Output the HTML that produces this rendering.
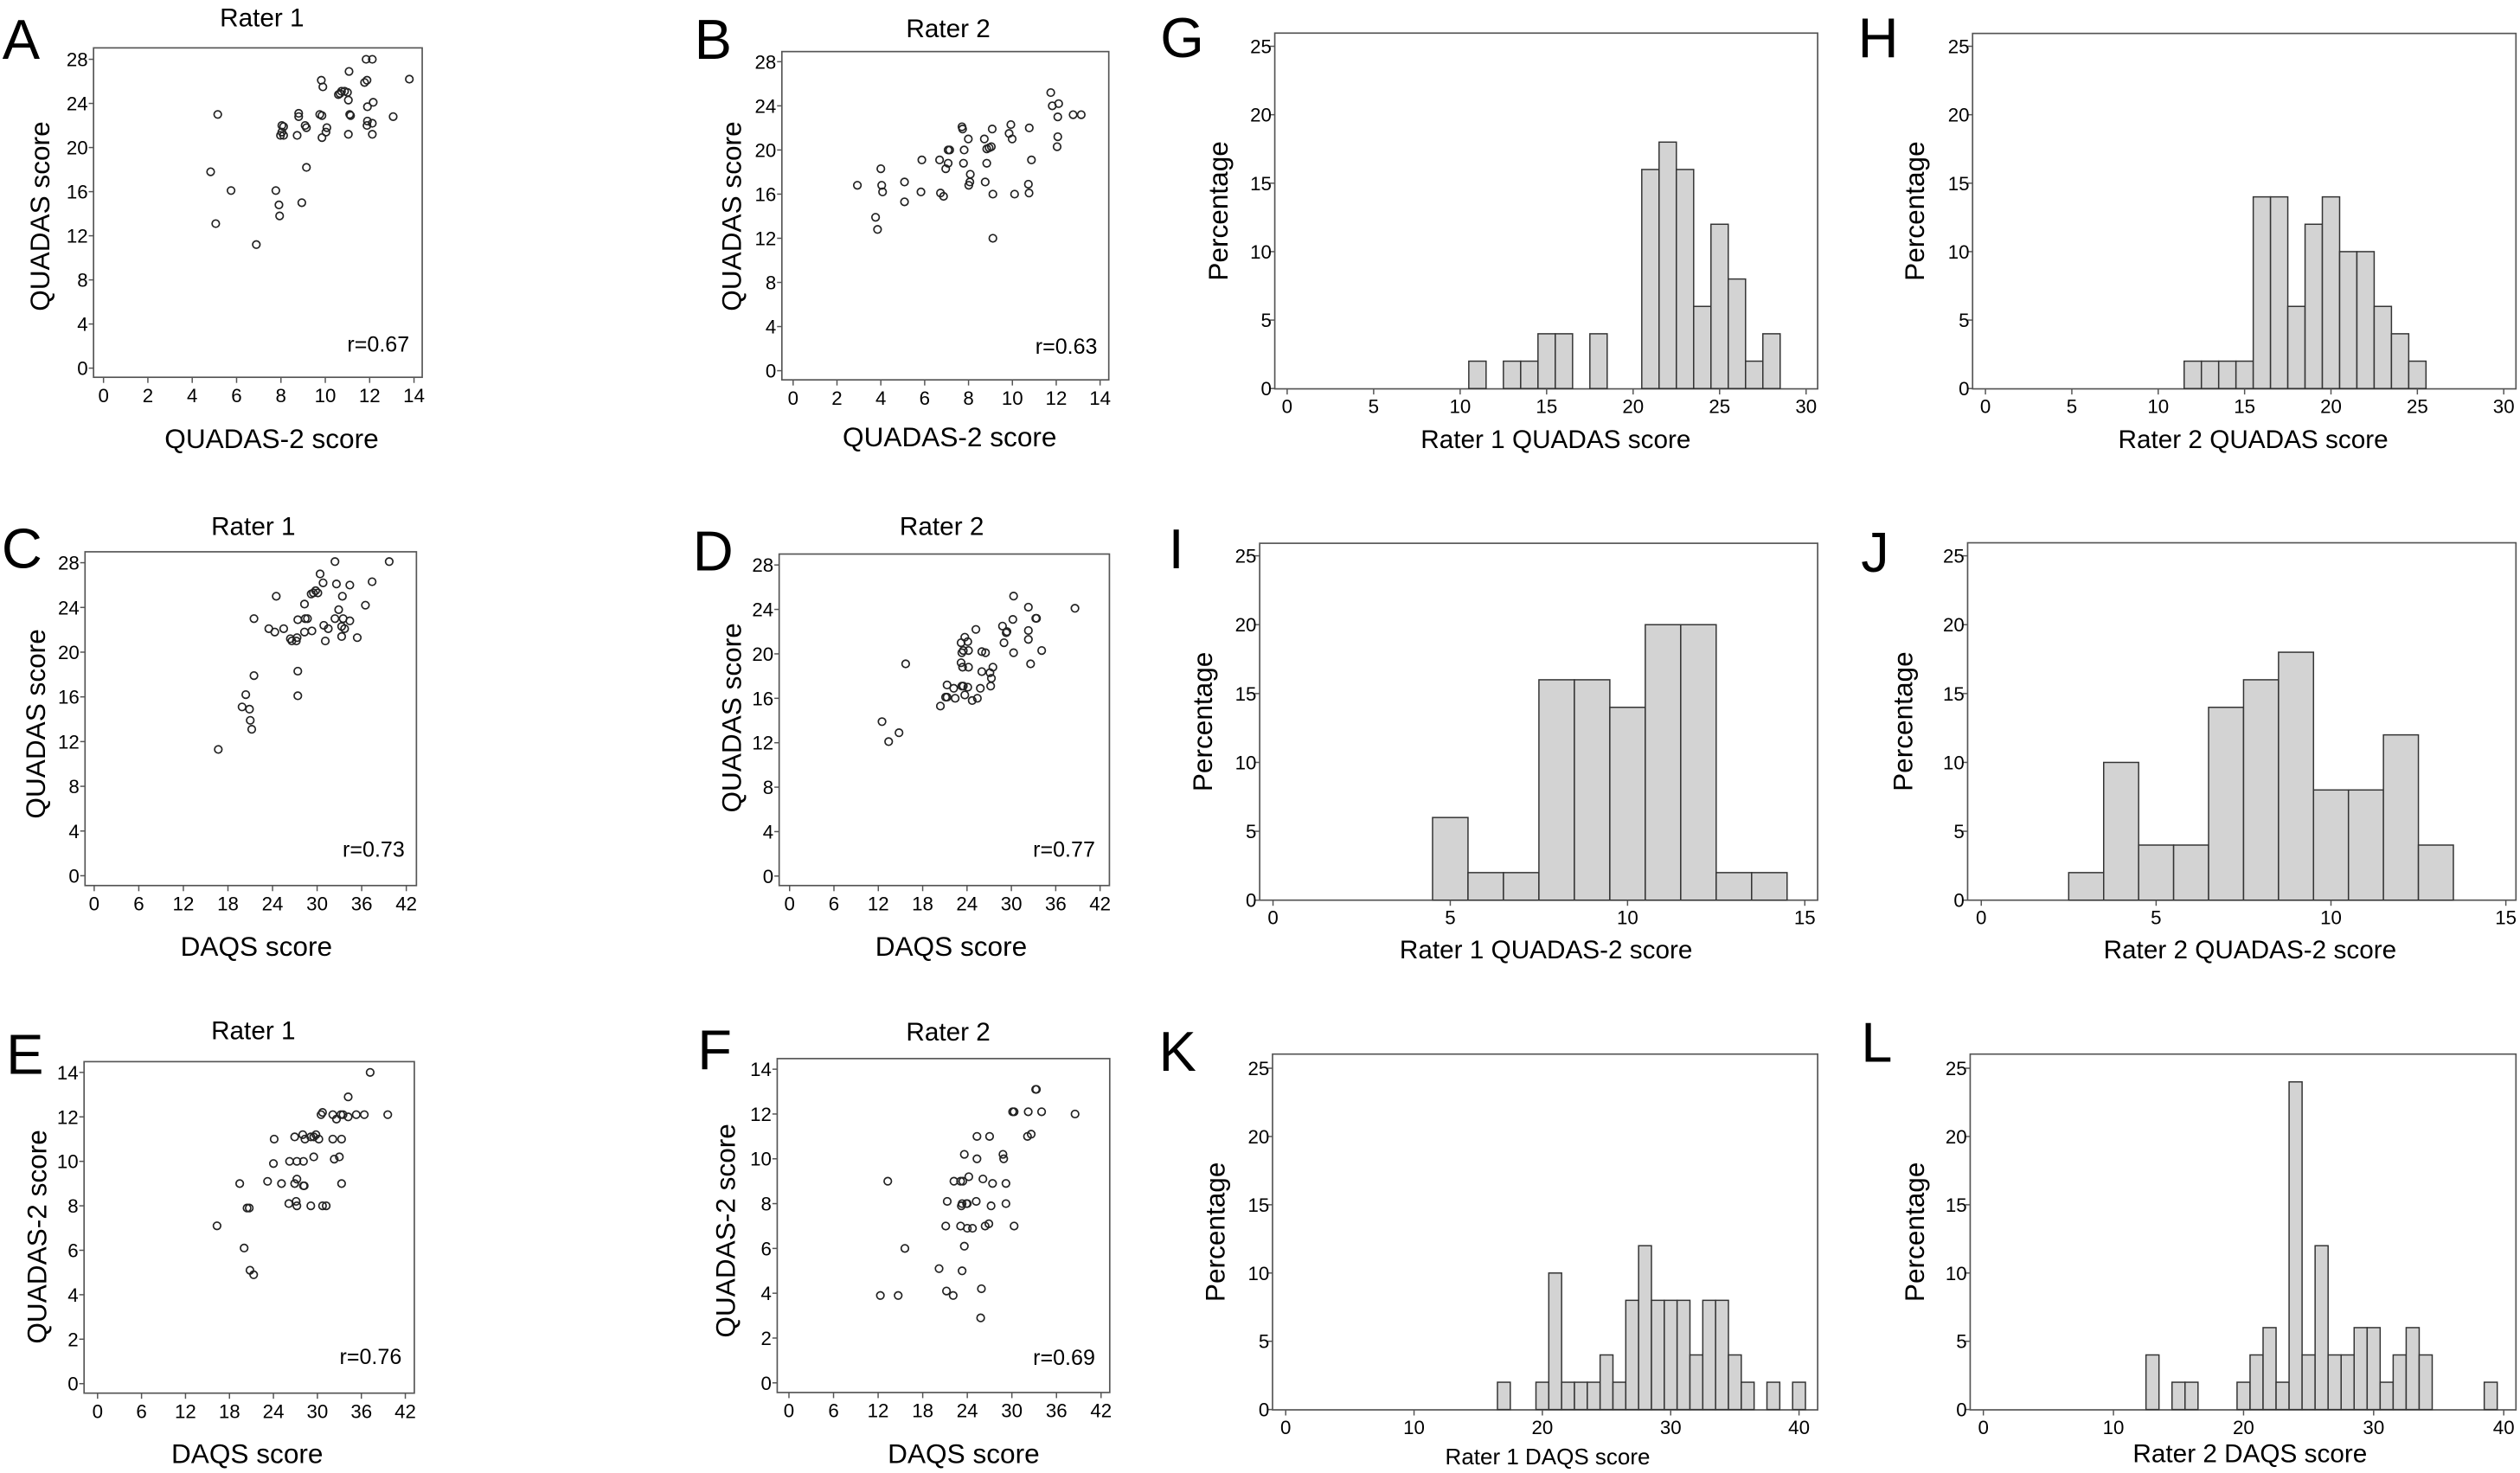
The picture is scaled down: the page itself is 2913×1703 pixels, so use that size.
<!DOCTYPE html>
<html><head><meta charset="utf-8"><title>QUADAS / QUADAS-2 / DAQS comparison</title>
<style>
html,body{margin:0;padding:0;background:#fff;}
svg{display:block;font-family:"Liberation Sans",Arial,sans-serif;}
</style></head>
<body>
<svg id="fig" width="2913" height="1703" viewBox="0 0 1568 916.7" xmlns="http://www.w3.org/2000/svg">
<rect x="0" y="0" width="1568" height="916.7" fill="#fff"/>
</svg>
<script>
// ---------- Scatter data ----------
const aX = [11.84,12.12,11.07,9.82,9.89,11.77,11.88,13.79,10.66,10.73,10.87,11.0,10.59,11.04,12.16,11.9,5.15,8.8,8.8,9.75,9.85,11.1,11.14,13.06,8.04,8.12,9.09,9.15,10.07,11.9,11.88,12.12,7.98,8.12,8.04,8.73,10.03,9.85,11.04,12.12,9.15,4.83,5.75,7.77,7.91,7.94,8.94,5.06,6.89];
const aY = [28,28,26.9,26.1,25.5,25.9,26.1,26.2,24.9,25.1,25.1,25.0,24.8,24.3,24.1,23.7,23,23.1,22.8,23,22.9,23,22.9,22.8,22.0,21.9,22,21.8,21.8,22.4,22.0,22.2,21.1,21.1,21.4,21.1,21.4,20.9,21.2,21.2,18.2,17.8,16.1,16.1,14.8,13.8,15.0,13.1,11.2];
const bX = [11.75,11.82,12.11,12.07,12.77,13.14,9.93,10.77,7.7,7.73,9.08,9.85,9.99,7.99,8.72,12.07,12.04,7.07,7.14,7.8,8.83,8.94,9.04,5.87,6.68,7.07,7.77,6.96,8.83,10.87,4.0,8.08,8.06,8.01,8.76,10.73,10.76,2.93,4.04,4.08,5.08,5.83,6.72,6.86,5.08,9.11,10.1,3.76,3.85,9.11];
const bY = [25.2,24,24.2,23.0,23.2,23.2,22.3,22,22.1,21.9,21.9,21.5,21.0,21,21,21.2,20.3,20.0,20,20,20.1,20.2,20.3,19.1,19.1,18.8,18.8,18.3,18.8,19.1,18.3,17.8,17.1,16.8,17.1,16.9,16.1,16.8,16.8,16.2,17.1,16.2,16.1,15.8,15.3,16,16,13.9,12.8,12.0];
const cX = [32.4,39.7,30.4,30.8,32.6,34.4,37.4,29.2,29.5,29.8,30.1,33.4,24.5,28.3,36.5,32.9,21.5,27.4,28.4,28.7,32.4,33.5,34.4,30.9,23.5,25.5,24.3,28.3,29.3,31.5,33.3,33.7,26.4,26.6,27.3,27.2,31.1,33.3,35.4,27.4,21.5,20.4,27.4,19.9,20.9,21,21.2,16.7];
const cY = [28.1,28.1,27,26.2,26.1,26,26.3,25.2,25.3,25.5,25.3,25,25,24.3,24.2,23.8,23,22.9,23,23,23,23,22.8,22.4,22.1,22.1,21.8,21.8,21.9,22.1,22.3,22.1,21.2,21,21.3,21,21,21.4,21.3,18.3,17.9,16.2,16.1,15.1,14.9,13.9,13.1,11.3];
const dX = [30.3,32.3,38.6,30.2,33.3,33.4,25.2,28.8,29.4,29.3,32.3,32.3,23.7,24.1,23.2,29,23.3,23.5,24.2,26,26.5,30.3,34.1,15.7,23.2,23.4,24.2,32.6,26,27.1,27.5,27.3,27.2,21.3,23.3,23.5,24.1,22.2,25.8,21.1,21.3,22.4,23.7,24.7,25.4,20.4,12.5,14.8,13.4];
const dY = [25.2,24.2,24.1,23.1,23.2,23.2,22.2,22.5,22,21.9,22.1,21.3,21.5,21.1,21,21,20.1,20.3,20.3,20.2,20.1,20.1,20.3,19.1,19.2,18.8,18.8,19.1,18.4,18.3,18.8,17.8,17.1,17.2,17.1,17.1,17,16.9,16.9,16.1,16.1,16,16.3,15.8,16,15.3,13.9,12.9,12.1];
const eX = [37.2,34.2,30.7,30.5,32.1,33.2,33.5,34.2,35.3,36.4,32.6,39.6,24.1,26.9,28,28.3,29.1,29.5,29.8,30.2,32.1,33.3,29.5,32.3,33,24,26.2,27.2,28.1,19.4,23.2,25.1,26.9,27.2,28.1,28.2,33.3,26.1,27.1,27.2,29.1,30.7,31.2,20.4,20.7,16.3,20,20.8,21.3];
const eY = [14,12.9,12.2,12.1,12.1,12.1,12.1,12,12.1,12.1,11.9,12.1,11,11.1,11.2,11,11.1,11.1,11.2,11,11,11,10.2,10.1,10.2,9.9,10,10,10,9,9.1,9,9,9.2,8.9,8.9,9,8.1,8.2,8,8,8,8,7.9,7.9,7.1,6.1,5.1,4.9];
const fX = [33.2,33.3,30.1,30.3,32.2,34,38.5,32.1,32.6,25.3,27,23.6,25.3,28.8,28.9,13.3,22.2,23.1,23.4,24.2,26.1,27.4,29.2,21.3,23.2,23.3,23.9,24,25.2,27.2,29.2,21.1,23.1,24,24.7,26.4,26.9,30.3,15.6,23.6,20.2,23.3,21.2,22.1,25.9,12.3,14.7,25.8];
const fY = [13.1,13.1,12.1,12.1,12.1,12.1,12,11,11.1,11,11,10.2,10,10.2,10,9,9,9,9,9.2,9.1,8.9,8.9,8.1,7.9,8,8,8,8.1,7.9,8,7,7,6.9,6.9,7,7.1,7,6,6.1,5.1,5,4.1,3.9,4.2,3.9,3.9,2.9];
const rLabels = ["r=0.67","r=0.63","r=0.73","r=0.77","r=0.76","r=0.69"];
const ticksQ2 = [0,2,4,6,8,10,12,14];
const ticksQ = [0,4,8,12,16,20,24,28];
const ticksD = [0,6,12,18,24,30,36,42];

// ---------- Histogram data ----------
const gBins = [11,13,14,15,16,18,21,22,23,24,25,26,27,28];
const gPct  = [2,2,2,4,4,4,16,18,16,6,12,8,2,4];
const hBins = [12,13,14,15,16,17,18,19,20,21,22,23,24,25];
const hPct  = [2,2,2,2,14,14,6,12,14,10,10,6,4,2];
const iBins = [5,6,7,8,9,10,11,12,13,14];
const iPct  = [6,2,2,16,16,14,20,20,2,2];
const jBins = [3,4,5,6,7,8,9,10,11,12,13];
const jPct  = [2,10,4,4,14,16,18,8,8,12,4];
const kBins = [17,20,21,22,23,24,25,26,27,28,29,30,31,32,33,34,35,36,38,40];
const kPct  = [2,2,10,2,2,2,4,2,8,12,8,8,8,4,8,8,4,2,2,2];
const lBins = [13,15,16,20,21,22,23,24,25,26,27,28,29,30,31,32,33,34,39];
const lPct  = [4,2,2,2,4,6,2,24,4,12,4,4,6,6,2,4,6,4,2];
const pctTicks = [0,5,10,15,20,25];
const tick30 = [0,5,10,15,20,25,30];
const tick15 = [0,5,10,15];
const tick40 = [0,10,20,30,40];

const NS = "http://www.w3.org/2000/svg";
const svg = document.getElementById('fig');
function mk(tag, attrs, parent) {
  const e = document.createElementNS(NS, tag);
  for (const k in attrs) e.setAttribute(k, attrs[k]);
  (parent || svg).appendChild(e);
  return e;
}
function txt(str, attrs, parent) {
  const t = mk('text', attrs, parent);
  t.textContent = str;
  return t;
}
function scale(d0, d1, p0, p1) { return v => p0 + (v - d0) * (p1 - p0) / (d1 - d0); }

const scatters = [
  {id:'a', letter:'A', lx:1.5, ly:36.5, box:[58.2,29.8,262.7,234.8], xr:[0,14,64.4,257.6], yr:[0,28,229.1,36.9], xs:aX, ys:aY, xt:ticksQ2, yt:ticksQ, title:'Rater 1', tx:163, ty:16.3, ylab:'QUADAS score', ylx:30.7, yly:134.6, xlab:'QUADAS-2 score', xlx:169, xly:278.7, r:rLabels[0], rx:254.7, ry:218.7},
  {id:'b', letter:'B', lx:432, ly:36.5, box:[486.5,32.1,689.9,236.4], xr:[0,14,493.5,684.5], yr:[0,28,230.7,38.4], xs:bX, ys:bY, xt:ticksQ2, yt:ticksQ, title:'Rater 2', tx:590, ty:23.1, ylab:'QUADAS score', ylx:461.1, yly:134.6, xlab:'QUADAS-2 score', xlx:590.9, xly:277.7, r:rLabels[1], rx:682.8, ry:220.1},
  {id:'c', letter:'C', lx:1, ly:353.5, box:[52.9,343.4,259.1,551.1], xr:[0,42,58.6,252.8], yr:[0,28,545.0,350.2], xs:cX, ys:cY, xt:ticksD, yt:ticksQ, title:'Rater 1', tx:157.6, ty:333, ylab:'QUADAS score', ylx:27.9, yly:450.5, xlab:'DAQS score', xlx:159.5, xly:594.7, r:rLabels[2], rx:251.8, ry:533.2},
  {id:'d', letter:'D', lx:431, ly:355, box:[484.8,344.8,690.3,551.1], xr:[0,42,491.3,684.5], yr:[0,28,545.2,351.6], xs:dX, ys:dY, xt:ticksD, yt:ticksQ, title:'Rater 2', tx:586, ty:333, ylab:'QUADAS score', ylx:461.1, yly:446.7, xlab:'DAQS score', xlx:591.8, xly:594.7, r:rLabels[3], rx:681.4, ry:533.2},
  {id:'e', letter:'E', lx:3.8, ly:668.2, box:[52.3,660.7,257.8,867.0], xr:[0,42,60.7,252.2], yr:[0,14,861.1,667.4], xs:eX, ys:eY, xt:ticksD, yt:ticksQ2, title:'Rater 1', tx:157.6, ty:646.7, ylab:'QUADAS-2 score', ylx:28.8, yly:769.7, xlab:'DAQS score', xlx:153.8, xly:910.4, r:rLabels[4], rx:249.9, ry:848.9},
  {id:'f', letter:'F', lx:434, ly:665.3, box:[483.6,658.8,690.5,866.6], xr:[0,42,490.9,685.1], yr:[0,14,860.6,665.4], xs:fX, ys:fY, xt:ticksD, yt:ticksQ2, title:'Rater 2', tx:590, ty:647.6, ylab:'QUADAS-2 score', ylx:457.3, yly:765.9, xlab:'DAQS score', xlx:599.6, xly:910.4, r:rLabels[5], rx:681.4, ry:849.4}
];

scatters.forEach(p => {
  const g = mk('g', {});
  
  
  const X = scale(p.xr[0], p.xr[1], p.xr[2], p.xr[3]);
  const Y = scale(p.yr[0], p.yr[1], p.yr[2], p.yr[3]);
  const [bx0, by0, bx1, by1] = p.box;
  const L = txt(p.letter, {x:p.lx, y:p.ly, 'font-size':35, fill:'#000'}, g);
  
  
  const T = txt(p.title, {x:p.tx, y:p.ty, 'font-size':16, 'text-anchor':'middle'}, g);
  
  
  const box = mk('rect', {x:bx0, y:by0, width:bx1-bx0, height:by1-by0, fill:'none', stroke:'#555', 'stroke-width':0.9}, g);
  
  
  p.yt.forEach(v => {
    const ln = mk('line', {x1:bx0-3, x2:bx0, y1:Y(v), y2:Y(v), stroke:'#555', 'stroke-width':0.8}, g);
    
    
    const t = txt(String(v), {x:bx0-3.5, y:Y(v)+4.3, 'font-size':12, 'text-anchor':'end'}, g);
    
    
  });
  p.xt.forEach(v => {
    const ln = mk('line', {x1:X(v), x2:X(v), y1:by1, y2:by1+3.5, stroke:'#555', 'stroke-width':0.8}, g);
    
    
    const t = txt(String(v), {x:X(v), y:by1+15.5, 'font-size':12, 'text-anchor':'middle'}, g);
    
    
  });
  const yl = txt(p.ylab, {x:0, y:0, 'font-size':17, 'text-anchor':'middle', transform:'translate(' + p.ylx + ',' + p.yly + ') rotate(-90)'}, g);
  
  
  const xl = txt(p.xlab, {x:p.xlx, y:p.xly, 'font-size':17, 'text-anchor':'middle'}, g);
  
  
  const r = txt(p.r, {x:p.rx, y:p.ry, 'font-size':13.5, 'text-anchor':'end'}, g);
  
  
  p.xs.forEach((xv, i) => {
    const c = mk('circle', {cx:X(xv), cy:Y(p.ys[i]), r:2.3, fill:'none', stroke:'#222', 'stroke-width':0.9}, g);
    
    
  });
});

const hists = [
  {id:'g', letter:'G', lx:722, ly:35.6, box:[793.2,20.6,1131,242], xr:[0,30,800.9,1123.8], yr:[0,25,241.8,28.8], bins:gBins, pct:gPct, xt:tick30, xlab:'Rater 1 QUADAS score', xfs:16, xlx:968, xly:278.7, ylx:763.8},
  {id:'h', letter:'H', lx:1156, ly:35.6, box:[1227.4,20.8,1565.5,242], xr:[0,30,1235.4,1557.9], yr:[0,25,241.8,28.8], bins:hBins, pct:hPct, xt:tick30, xlab:'Rater 2 QUADAS score', xfs:16, xlx:1402, xly:278.7, ylx:1197},
  {id:'i', letter:'I', lx:727, ly:353.6, box:[783.8,338.1,1131,560.2], xr:[0,15,792.1,1123], yr:[0,25,560.2,345.9], bins:iBins, pct:iPct, xt:tick15, xlab:'Rater 1 QUADAS-2 score', xfs:16, xlx:962, xly:596.5, ylx:754},
  {id:'j', letter:'J', lx:1158, ly:355.7, box:[1224.3,337.8,1565.5,560.2], xr:[0,15,1232.8,1559.2], yr:[0,25,560.2,345.9], bins:jBins, pct:jPct, xt:tick15, xlab:'Rater 2 QUADAS-2 score', xfs:16, xlx:1400, xly:596.5, ylx:1190},
  {id:'k', letter:'K', lx:721, ly:666.3, box:[791.8,656,1131,877.4], xr:[0,40,800,1119.4], yr:[0,25,877.2,664.8], bins:kBins, pct:kPct, xt:tick40, xlab:'Rater 1 DAQS score', xfs:14, xlx:963, xly:911.2, ylx:762},
  {id:'l', letter:'L', lx:1158, ly:660.7, box:[1225.9,656,1565.5,877.4], xr:[0,40,1234.1,1557.9], yr:[0,25,877.2,664.8], bins:lBins, pct:lPct, xt:tick40, xlab:'Rater 2 DAQS score', xfs:16, xlx:1400, xly:910, ylx:1197}
];

hists.forEach(p => {
  const g = mk('g', {});
  
  
  const X = scale(p.xr[0], p.xr[1], p.xr[2], p.xr[3]);
  const Y = scale(p.yr[0], p.yr[1], p.yr[2], p.yr[3]);
  const [bx0, by0, bx1, by1] = p.box;
  const L = txt(p.letter, {x:p.lx, y:p.ly, 'font-size':35}, g);
  
  
  const box = mk('rect', {x:bx0, y:by0, width:bx1-bx0, height:by1-by0, fill:'none', stroke:'#555', 'stroke-width':0.9}, g);
  
  
  p.bins.forEach((b, i) => {
    const x0 = X(b - 0.5), x1 = X(b + 0.5);
    const bar = mk('rect', {x:x0, y:Y(p.pct[i]), width:x1-x0, height:Y(0)-Y(p.pct[i]), fill:'#d3d3d3', stroke:'#333', 'stroke-width':0.8}, g);
    
    
  });
  pctTicks.forEach(v => {
    const ln = mk('line', {x1:bx0-3, x2:bx0, y1:Y(v), y2:Y(v), stroke:'#555', 'stroke-width':0.8}, g);
    
    
    const t = txt(String(v), {x:bx0-2, y:Y(v)+4.3, 'font-size':12, 'text-anchor':'end'}, g);
    
    
  });
  p.xt.forEach(v => {
    const ln = mk('line', {x1:X(v), x2:X(v), y1:by1, y2:by1+3.5, stroke:'#555', 'stroke-width':0.8}, g);
    
    
    const t = txt(String(v), {x:X(v), y:by1+15, 'font-size':12, 'text-anchor':'middle'}, g);
    
    
  });
  const yl = txt('Percentage', {x:0, y:0, 'font-size':17, 'text-anchor':'middle', transform:'translate(' + p.ylx + ',' + ((by0+by1)/2) + ') rotate(-90)'}, g);
  
  
  const xl = txt(p.xlab, {x:p.xlx, y:p.xly, 'font-size':p.xfs, 'text-anchor':'middle'}, g);
  
  
});
</script>
</body></html>
